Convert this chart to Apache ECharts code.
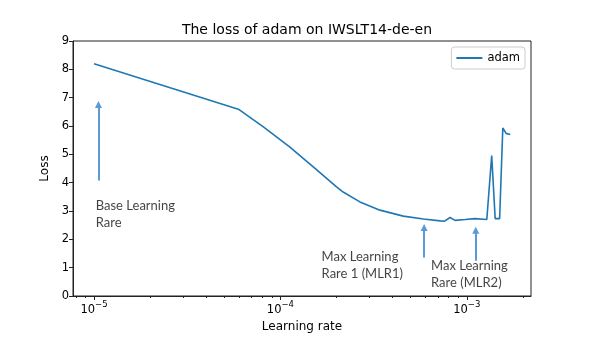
<!DOCTYPE html>
<html>
<head>
<meta charset="utf-8">
<script src="https://cdn.jsdelivr.net/npm/echarts@6/dist/echarts.min.js"></script>
<style>
  html, body { margin: 0; padding: 0; background: #fff; }
  #chart { width: 590px; height: 338px; }
</style>
</head>
<body>
<div id="chart"></div>
<script>
// learning rates (x, log scale) and loss values
const lrs = [1e-5, 6e-5, 8.1e-5, 1.12e-4, 1.5e-4, 2.0e-4, 2.17e-4, 2.67e-4, 3.42e-4, 4.56e-4,
  5.85e-4, 7.2e-4, 7.6e-4, 8.13e-4, 8.65e-4, 9.8e-4, 1.107e-3, 1.28e-3, 1.306e-3, 1.36e-3,
  1.42e-3, 1.45e-3, 1.5e-3, 1.525e-3, 1.56e-3, 1.625e-3, 1.71e-3];
const losses = [8.20, 6.58, 5.97, 5.26, 4.56, 3.85, 3.67, 3.32, 3.03, 2.82,
  2.72, 2.65, 2.64, 2.77, 2.67, 2.70, 2.73, 2.70, 2.77, 4.96,
  2.73, 2.79, 2.73, 2.77, 5.93, 5.74, 5.70];

// x tick labels (exponents) and minor ticks
const majorTicks = [1e-5, 1e-4, 1e-3];
const majorExps = ['\u22125', '\u22124', '\u22123'];
const minorTicks = [8e-6, 9e-6, 2e-5, 3e-5, 4e-5, 5e-5, 6e-5, 7e-5, 8e-5, 9e-5,
  2e-4, 3e-4, 4e-4, 5e-4, 6e-4, 7e-4, 8e-4, 9e-4, 2e-3];
const xRange = [7.71e-6, 2.21e-3];

// annotations: arrows [lr, from loss, to loss] and notes [lr, loss, text]
const arrows = [[1.056e-5, 4.08, 6.76], [5.9e-4, 1.36, 2.42], [1.117e-3, 1.24, 2.32]];
const notes = [
  [1.021e-5, 3.50, 'Base Learning\nRare'],
  [1.663e-4, 1.67, 'Max Learning\nRare 1 (MLR1)'],
  [6.43e-4, 1.37, 'Max Learning\nRare (MLR2)']
];

const lg = v => Math.log10(v);
const font = 'DejaVu Sans';

let myChart = echarts.init(document.getElementById('chart'), null, { renderer: 'canvas' });
let option = {
  animation: false,
  title: {
    text: 'The loss of adam on IWSLT14-de-en',
    left: 302, top: 18, textAlign: 'center',
    textStyle: { fontFamily: font, fontSize: 14, fontWeight: 'normal', color: '#000' }
  },
  legend: {
    data: ['adam'],
    right: 65, top: 47,
    orient: 'vertical',
    itemWidth: 26, itemHeight: 2, itemGap: 0,
    padding: [5, 5, 5, 4],
    borderColor: '#ccc', borderWidth: 1, borderRadius: 3,
    textStyle: { fontFamily: font, fontSize: 11.5, color: '#000' }
  },
  grid: {
    show: true,
    left: 73, right: 59, top: 41, bottom: 42,
    borderColor: '#222', borderWidth: 1,
    backgroundColor: 'transparent'
  },
  xAxis: [{
    type: 'value',
    position: 'bottom',
    min: lg(xRange[0]), max: lg(xRange[1]),
    name: 'Learning rate',
    nameLocation: 'middle', nameGap: 20,
    nameTextStyle: { fontFamily: font, fontSize: 12, color: '#000' },
    axisLine: { show: true, lineStyle: { color: '#222', width: 1 } },
    axisTick: { show: true, inside: false, length: 4, customValues: majorTicks.map(lg), lineStyle: { color: '#222' } },
    axisLabel: {
      customValues: majorTicks.map(lg),
      margin: 4,
      color: '#000',
      formatter: function (v) {
        let i = majorTicks.findIndex(t => Math.abs(lg(t) - v) < 1e-6);
        return i >= 0 ? '{b|10}{s|' + majorExps[i] + '}' : '';
      },
      rich: {
        b: { fontFamily: font, fontSize: 11.5, color: '#000', verticalAlign: 'bottom', lineHeight: 16 },
        s: { fontFamily: font, fontSize: 8.5, color: '#000', verticalAlign: 'top', lineHeight: 16 }
      }
    },
    splitLine: { show: false }
  }, {
    type: 'value',
    position: 'bottom',
    min: lg(xRange[0]), max: lg(xRange[1]),
    axisLine: { show: false },
    axisTick: { show: true, length: 2, customValues: minorTicks.map(lg), lineStyle: { color: '#222' } },
    axisLabel: { show: false },
    splitLine: { show: false }
  }],
  yAxis: {
    type: 'value',
    min: 0, max: 9, interval: 1,
    name: 'Loss',
    nameLocation: 'middle', nameGap: 22,
    nameTextStyle: { fontFamily: font, fontSize: 12, color: '#000' },
    axisLine: { show: true, lineStyle: { color: '#222', width: 1 } },
    axisTick: { show: true, length: 4, lineStyle: { color: '#222' } },
    axisLabel: { margin: 4, fontFamily: font, fontSize: 11.5, color: '#000' },
    splitLine: { show: false }
  },
  series: [{
    name: 'adam',
    type: 'line',
    symbol: 'none',
    data: lrs.map((v, i) => [lg(v), losses[i]]),
    lineStyle: { color: '#1f77b4', width: 1.6 },
    itemStyle: { color: '#1f77b4' }
  }, {
    name: 'notes',
    type: 'scatter',
    symbolSize: 0,
    silent: true,
    data: notes.map(n => [lg(n[0]), n[1], n[2]]),
    label: {
      show: true,
      position: [0, 0],
      align: 'left', verticalAlign: 'top',
      formatter: p => p.data[2],
      fontFamily: 'Lato', fontSize: 13, lineHeight: 17, color: '#111'
    },
    markLine: {
      silent: true,
      symbol: ['none', 'triangle'],
      symbolSize: 7,
      symbolOffset: 0,
      label: { show: false },
      itemStyle: { color: '#5b9bd5' },
      lineStyle: { color: '#5b9bd5', width: 2, type: 'solid' },
      data: arrows.map(a => [{ coord: [lg(a[0]), a[1]] }, { coord: [lg(a[0]), a[2]] }])
    }
  }]
};
myChart.setOption(option);
</script>
</body>
</html>
